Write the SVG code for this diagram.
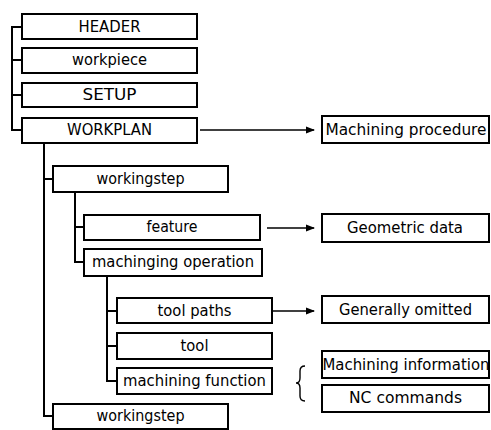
<svg xmlns="http://www.w3.org/2000/svg" width="491" height="430" viewBox="0 0 491 430">
<defs>
<marker id="ah" markerWidth="9" markerHeight="8" refX="8" refY="4" orient="auto" markerUnits="userSpaceOnUse">
<path d="M0,0.5 L9,4 L0,7.5 Z" fill="#000"/>
</marker>
<style>
rect{fill:#fff;stroke:#000;stroke-width:2}
text{font-family:"DejaVu Sans","Liberation Sans",sans-serif;font-size:15px;fill:#000;text-anchor:middle}
.c{fill:none;stroke:#000;stroke-width:2}
.a{fill:none;stroke:#000;stroke-width:1.6;marker-end:url(#ah)}
.b{fill:none;stroke:#000;stroke-width:1.4}
</style>
</defs>
<rect width="491" height="430" style="fill:#fff;stroke:none"/>
<g id="connectors">
<path class="c" d="M22,27 H12 V130 H22 M12,60 H22 M12,95 H22"/>
<path class="c" d="M44,143 V416 H53 M44,179 H53"/>
<path class="c" d="M75,192 V262 H84 M75,227 H84"/>
<path class="c" d="M107,276 V381 H117 M107,311 H117 M107,346 H117"/>
<path class="a" d="M200,130 H314"/>
<path class="a" d="M267,228 H314"/>
<path class="a" d="M272,311 H314"/>
<path class="b" d="M305,366 Q300,366 300,371 L300,378 Q300,383 296,383 Q300,383 300,388 L300,396 Q300,401 305,401"/>
</g>
<g id="header"><rect x="22" y="14" width="175" height="25"/><text x="109.5" y="32" textLength="62" lengthAdjust="spacingAndGlyphs">HEADER</text></g>
<g id="workpiece"><rect x="22" y="48" width="175" height="25"/><text x="109.5" y="65" textLength="75" lengthAdjust="spacingAndGlyphs">workpiece</text></g>
<g id="setup"><rect x="22" y="83" width="175" height="24"/><text x="109.5" y="100" textLength="54" lengthAdjust="spacingAndGlyphs">SETUP</text></g>
<g id="workplan"><rect x="22" y="118" width="175" height="25"/><text x="109.5" y="135" textLength="85" lengthAdjust="spacingAndGlyphs">WORKPLAN</text></g>
<g id="workingstep1"><rect x="53" y="166" width="175" height="26"/><text x="140.5" y="184" textLength="88" lengthAdjust="spacingAndGlyphs">workingstep</text></g>
<g id="feature"><rect x="84" y="215" width="176" height="25"/><text x="172" y="232" textLength="51" lengthAdjust="spacingAndGlyphs">feature</text></g>
<g id="machinging-operation"><rect x="84" y="249" width="178" height="27"/><text x="173" y="267" textLength="162" lengthAdjust="spacingAndGlyphs">machinging operation</text></g>
<g id="tool-paths"><rect x="117" y="298" width="155" height="25"/><text x="194.5" y="316" textLength="74" lengthAdjust="spacingAndGlyphs">tool paths</text></g>
<g id="tool"><rect x="117" y="333" width="155" height="26"/><text x="194.5" y="351" textLength="28" lengthAdjust="spacingAndGlyphs">tool</text></g>
<g id="machining-function"><rect x="117" y="368" width="155" height="26"/><text x="194.5" y="386" textLength="143" lengthAdjust="spacingAndGlyphs">machining function</text></g>
<g id="workingstep2"><rect x="53" y="404" width="175" height="25"/><text x="140.5" y="421" textLength="88" lengthAdjust="spacingAndGlyphs">workingstep</text></g>
<g id="machining-procedure"><rect x="322" y="116" width="167" height="27"/><text x="406" y="135" textLength="161" lengthAdjust="spacingAndGlyphs">Machining procedure</text></g>
<g id="geometric-data"><rect x="322" y="214" width="167" height="28"/><text x="405" y="233" textLength="116" lengthAdjust="spacingAndGlyphs">Geometric data</text></g>
<g id="generally-omitted"><rect x="322" y="296" width="167" height="27"/><text x="405.5" y="315" textLength="133" lengthAdjust="spacingAndGlyphs">Generally omitted</text></g>
<g id="machining-information"><rect x="322" y="351" width="167" height="27"/><text x="406" y="370" textLength="167" lengthAdjust="spacingAndGlyphs">Machining information</text></g>
<g id="nc-commands"><rect x="322" y="385" width="167" height="27"/><text x="405.5" y="403" textLength="113" lengthAdjust="spacingAndGlyphs">NC commands</text></g>
</svg>
